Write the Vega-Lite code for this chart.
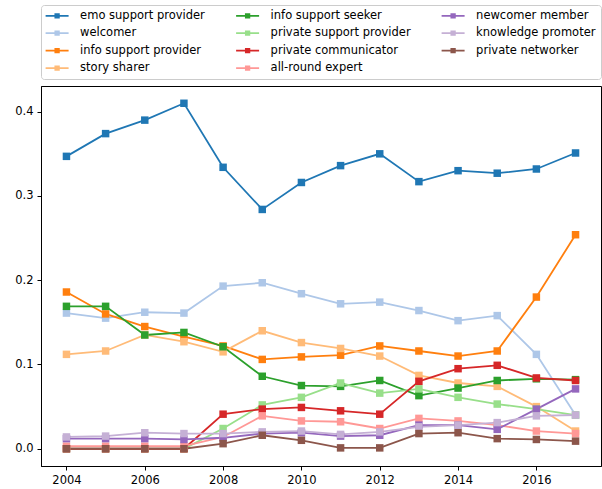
{
  "$schema": "https://vega.github.io/schema/vega-lite/v6.json",
  "width": 560,
  "height": 380,
  "autosize": "none",
  "padding": {"left": 41, "top": 86, "right": 1, "bottom": 23},
  "background": "white",
  "config": {
    "font": "DejaVu Sans",
    "view": {"stroke": "#000", "strokeWidth": 1},
    "axis": {"domainColor": "#000", "tickColor": "#000", "labelColor": "#000", "labelFont": "DejaVu Sans", "labelFontSize": 11.5, "tickSize": 4, "tickWidth": 1, "domainWidth": 1, "labelPadding": 4, "grid": false, "title": null}
  },
  "data": {"values": [
    {"role": "emo support provider", "year": 2004, "share": 0.347},
    {"role": "emo support provider", "year": 2005, "share": 0.374},
    {"role": "emo support provider", "year": 2006, "share": 0.390},
    {"role": "emo support provider", "year": 2007, "share": 0.410},
    {"role": "emo support provider", "year": 2008, "share": 0.334},
    {"role": "emo support provider", "year": 2009, "share": 0.284},
    {"role": "emo support provider", "year": 2010, "share": 0.316},
    {"role": "emo support provider", "year": 2011, "share": 0.336},
    {"role": "emo support provider", "year": 2012, "share": 0.350},
    {"role": "emo support provider", "year": 2013, "share": 0.317},
    {"role": "emo support provider", "year": 2014, "share": 0.330},
    {"role": "emo support provider", "year": 2015, "share": 0.327},
    {"role": "emo support provider", "year": 2016, "share": 0.332},
    {"role": "emo support provider", "year": 2017, "share": 0.351},
    {"role": "welcomer", "year": 2004, "share": 0.161},
    {"role": "welcomer", "year": 2005, "share": 0.155},
    {"role": "welcomer", "year": 2006, "share": 0.162},
    {"role": "welcomer", "year": 2007, "share": 0.161},
    {"role": "welcomer", "year": 2008, "share": 0.193},
    {"role": "welcomer", "year": 2009, "share": 0.197},
    {"role": "welcomer", "year": 2010, "share": 0.184},
    {"role": "welcomer", "year": 2011, "share": 0.172},
    {"role": "welcomer", "year": 2012, "share": 0.174},
    {"role": "welcomer", "year": 2013, "share": 0.164},
    {"role": "welcomer", "year": 2014, "share": 0.152},
    {"role": "welcomer", "year": 2015, "share": 0.158},
    {"role": "welcomer", "year": 2016, "share": 0.112},
    {"role": "welcomer", "year": 2017, "share": 0.040},
    {"role": "info support provider", "year": 2004, "share": 0.186},
    {"role": "info support provider", "year": 2005, "share": 0.160},
    {"role": "info support provider", "year": 2006, "share": 0.145},
    {"role": "info support provider", "year": 2007, "share": 0.133},
    {"role": "info support provider", "year": 2008, "share": 0.122},
    {"role": "info support provider", "year": 2009, "share": 0.106},
    {"role": "info support provider", "year": 2010, "share": 0.109},
    {"role": "info support provider", "year": 2011, "share": 0.111},
    {"role": "info support provider", "year": 2012, "share": 0.122},
    {"role": "info support provider", "year": 2013, "share": 0.116},
    {"role": "info support provider", "year": 2014, "share": 0.110},
    {"role": "info support provider", "year": 2015, "share": 0.116},
    {"role": "info support provider", "year": 2016, "share": 0.180},
    {"role": "info support provider", "year": 2017, "share": 0.254},
    {"role": "story sharer", "year": 2004, "share": 0.112},
    {"role": "story sharer", "year": 2005, "share": 0.116},
    {"role": "story sharer", "year": 2006, "share": 0.135},
    {"role": "story sharer", "year": 2007, "share": 0.127},
    {"role": "story sharer", "year": 2008, "share": 0.115},
    {"role": "story sharer", "year": 2009, "share": 0.140},
    {"role": "story sharer", "year": 2010, "share": 0.126},
    {"role": "story sharer", "year": 2011, "share": 0.119},
    {"role": "story sharer", "year": 2012, "share": 0.110},
    {"role": "story sharer", "year": 2013, "share": 0.087},
    {"role": "story sharer", "year": 2014, "share": 0.078},
    {"role": "story sharer", "year": 2015, "share": 0.074},
    {"role": "story sharer", "year": 2016, "share": 0.050},
    {"role": "story sharer", "year": 2017, "share": 0.021},
    {"role": "info support seeker", "year": 2004, "share": 0.169},
    {"role": "info support seeker", "year": 2005, "share": 0.169},
    {"role": "info support seeker", "year": 2006, "share": 0.135},
    {"role": "info support seeker", "year": 2007, "share": 0.138},
    {"role": "info support seeker", "year": 2008, "share": 0.121},
    {"role": "info support seeker", "year": 2009, "share": 0.086},
    {"role": "info support seeker", "year": 2010, "share": 0.075},
    {"role": "info support seeker", "year": 2011, "share": 0.074},
    {"role": "info support seeker", "year": 2012, "share": 0.081},
    {"role": "info support seeker", "year": 2013, "share": 0.063},
    {"role": "info support seeker", "year": 2014, "share": 0.072},
    {"role": "info support seeker", "year": 2015, "share": 0.081},
    {"role": "info support seeker", "year": 2016, "share": 0.083},
    {"role": "info support seeker", "year": 2017, "share": 0.082},
    {"role": "private support provider", "year": 2004, "share": 0.0},
    {"role": "private support provider", "year": 2005, "share": 0.0},
    {"role": "private support provider", "year": 2006, "share": 0.0},
    {"role": "private support provider", "year": 2007, "share": 0.0},
    {"role": "private support provider", "year": 2008, "share": 0.024},
    {"role": "private support provider", "year": 2009, "share": 0.052},
    {"role": "private support provider", "year": 2010, "share": 0.061},
    {"role": "private support provider", "year": 2011, "share": 0.078},
    {"role": "private support provider", "year": 2012, "share": 0.066},
    {"role": "private support provider", "year": 2013, "share": 0.071},
    {"role": "private support provider", "year": 2014, "share": 0.061},
    {"role": "private support provider", "year": 2015, "share": 0.053},
    {"role": "private support provider", "year": 2016, "share": 0.047},
    {"role": "private support provider", "year": 2017, "share": 0.040},
    {"role": "private communicator", "year": 2004, "share": 0.0},
    {"role": "private communicator", "year": 2005, "share": 0.0},
    {"role": "private communicator", "year": 2006, "share": 0.0},
    {"role": "private communicator", "year": 2007, "share": 0.0},
    {"role": "private communicator", "year": 2008, "share": 0.041},
    {"role": "private communicator", "year": 2009, "share": 0.047},
    {"role": "private communicator", "year": 2010, "share": 0.049},
    {"role": "private communicator", "year": 2011, "share": 0.045},
    {"role": "private communicator", "year": 2012, "share": 0.041},
    {"role": "private communicator", "year": 2013, "share": 0.080},
    {"role": "private communicator", "year": 2014, "share": 0.095},
    {"role": "private communicator", "year": 2015, "share": 0.099},
    {"role": "private communicator", "year": 2016, "share": 0.084},
    {"role": "private communicator", "year": 2017, "share": 0.081},
    {"role": "all-round expert", "year": 2004, "share": 0.003},
    {"role": "all-round expert", "year": 2005, "share": 0.003},
    {"role": "all-round expert", "year": 2006, "share": 0.003},
    {"role": "all-round expert", "year": 2007, "share": 0.003},
    {"role": "all-round expert", "year": 2008, "share": 0.014},
    {"role": "all-round expert", "year": 2009, "share": 0.039},
    {"role": "all-round expert", "year": 2010, "share": 0.033},
    {"role": "all-round expert", "year": 2011, "share": 0.032},
    {"role": "all-round expert", "year": 2012, "share": 0.024},
    {"role": "all-round expert", "year": 2013, "share": 0.036},
    {"role": "all-round expert", "year": 2014, "share": 0.033},
    {"role": "all-round expert", "year": 2015, "share": 0.028},
    {"role": "all-round expert", "year": 2016, "share": 0.021},
    {"role": "all-round expert", "year": 2017, "share": 0.018},
    {"role": "newcomer member", "year": 2004, "share": 0.012},
    {"role": "newcomer member", "year": 2005, "share": 0.012},
    {"role": "newcomer member", "year": 2006, "share": 0.012},
    {"role": "newcomer member", "year": 2007, "share": 0.011},
    {"role": "newcomer member", "year": 2008, "share": 0.013},
    {"role": "newcomer member", "year": 2009, "share": 0.018},
    {"role": "newcomer member", "year": 2010, "share": 0.019},
    {"role": "newcomer member", "year": 2011, "share": 0.015},
    {"role": "newcomer member", "year": 2012, "share": 0.016},
    {"role": "newcomer member", "year": 2013, "share": 0.028},
    {"role": "newcomer member", "year": 2014, "share": 0.028},
    {"role": "newcomer member", "year": 2015, "share": 0.023},
    {"role": "newcomer member", "year": 2016, "share": 0.047},
    {"role": "newcomer member", "year": 2017, "share": 0.071},
    {"role": "knowledge promoter", "year": 2004, "share": 0.014},
    {"role": "knowledge promoter", "year": 2005, "share": 0.015},
    {"role": "knowledge promoter", "year": 2006, "share": 0.019},
    {"role": "knowledge promoter", "year": 2007, "share": 0.018},
    {"role": "knowledge promoter", "year": 2008, "share": 0.018},
    {"role": "knowledge promoter", "year": 2009, "share": 0.020},
    {"role": "knowledge promoter", "year": 2010, "share": 0.021},
    {"role": "knowledge promoter", "year": 2011, "share": 0.017},
    {"role": "knowledge promoter", "year": 2012, "share": 0.020},
    {"role": "knowledge promoter", "year": 2013, "share": 0.026},
    {"role": "knowledge promoter", "year": 2014, "share": 0.028},
    {"role": "knowledge promoter", "year": 2015, "share": 0.031},
    {"role": "knowledge promoter", "year": 2016, "share": 0.039},
    {"role": "knowledge promoter", "year": 2017, "share": 0.040},
    {"role": "private networker", "year": 2004, "share": 0.0},
    {"role": "private networker", "year": 2005, "share": 0.0},
    {"role": "private networker", "year": 2006, "share": 0.0},
    {"role": "private networker", "year": 2007, "share": 0.0},
    {"role": "private networker", "year": 2008, "share": 0.006},
    {"role": "private networker", "year": 2009, "share": 0.016},
    {"role": "private networker", "year": 2010, "share": 0.010},
    {"role": "private networker", "year": 2011, "share": 0.001},
    {"role": "private networker", "year": 2012, "share": 0.001},
    {"role": "private networker", "year": 2013, "share": 0.018},
    {"role": "private networker", "year": 2014, "share": 0.019},
    {"role": "private networker", "year": 2015, "share": 0.012},
    {"role": "private networker", "year": 2016, "share": 0.011},
    {"role": "private networker", "year": 2017, "share": 0.009}
  ]},
  "mark": {"type": "line", "strokeWidth": 1.8, "point": {"shape": "square", "filled": true, "size": 56, "opacity": 1}},
  "encoding": {
    "x": {"field": "year", "type": "quantitative", "scale": {"domain": [2003.35, 2017.65], "nice": false, "zero": false}, "axis": {"values": [2004, 2006, 2008, 2010, 2012, 2014, 2016], "format": "d"}},
    "y": {"field": "share", "type": "quantitative", "scale": {"domain": [-0.0205, 0.4305], "nice": false, "zero": false}, "axis": {"values": [0, 0.1, 0.2, 0.3, 0.4], "format": ".1f"}},
    "color": {
      "field": "role", "type": "nominal",
      "scale": {
        "domain": ["emo support provider", "welcomer", "info support provider", "story sharer", "info support seeker", "private support provider", "private communicator", "all-round expert", "newcomer member", "knowledge promoter", "private networker"],
        "range": ["#1f77b4", "#aec7e8", "#ff7f0e", "#ffbb78", "#2ca02c", "#98df8a", "#d62728", "#ff9896", "#9467bd", "#c5b0d5", "#8c564b"]
      },
      "legend": {
        "orient": "none", "legendX": 0, "legendY": -81, "columns": 3, "title": null,
        "symbolType": "M-2.3,0H2.3M-0.35,-0.35H0.35V0.35H-0.35Z", "symbolSize": 100, "symbolStrokeWidth": 1.8,
        "symbolOffset": 5.5, "labelOffset": 17, "labelFontSize": 11.5, "labelFont": "DejaVu Sans", "labelColor": "#000", "labelLimit": 300,
        "columnPadding": 26.5, "rowPadding": 5.5, "padding": 4.6,
        "strokeColor": "#cccccc", "fillColor": "white", "cornerRadius": 3,
        "encode": {"symbols": {"update": {"fill": {"scale": "color", "field": "value"}, "fillOpacity": {"value": 1}, "opacity": {"value": 1}}}}
      }
    }
  }
}
